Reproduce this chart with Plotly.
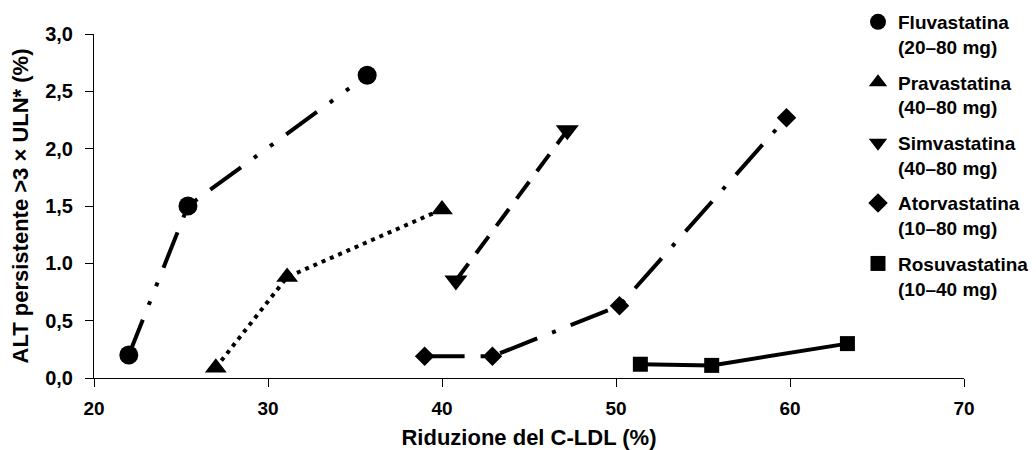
import plotly.graph_objects as go

# Data
series_names = ["Fluvastatina", "Pravastatina", "Simvastatina", "Atorvastatina", "Rosuvastatina"]
dose_labels = ["(20–80 mg)", "(40–80 mg)", "(40–80 mg)", "(10–80 mg)", "(10–40 mg)"]

fluva_x = [22.0, 25.4, 35.7]
fluva_y = [0.20, 1.50, 2.64]
prava_x = [27.0, 31.1, 40.0]
prava_y = [0.09, 0.88, 1.47]
simva_x = [40.8, 47.2]
simva_y = [0.85, 2.16]
atorva_x = [39.0, 42.9, 50.2, 59.8]
atorva_y = [0.19, 0.19, 0.63, 2.27]
rosuva_x = [51.4, 55.5, 63.3]
rosuva_y = [0.12, 0.11, 0.30]

x_ticks = [20, 30, 40, 50, 60, 70]
y_tickvals = [0.0, 0.5, 1.0, 1.5, 2.0, 2.5, 3.0]
y_ticktext = ["0,0", "0,5", "1.0", "1,5", "2,0", "2,5", "3,0"]

xs = [fluva_x, prava_x, simva_x, atorva_x, rosuva_x]
ys = [fluva_y, prava_y, simva_y, atorva_y, rosuva_y]

symbols = ["circle", "triangle-up", "triangle-down", "diamond", "square"]
sizes = [19, 19, 20, 15, 15]
dashes = [
    "38px,16px,4px,16px,4px,16px",
    "4px,5px",
    "21px,13px",
    "40px,16px,4px,16px",
    "solid",
]

FONT = "Liberation Sans, Arial, sans-serif"

fig = go.Figure()
for i in range(5):
    fig.add_trace(go.Scatter(
        x=xs[i], y=ys[i], mode="lines",
        line=dict(color="black", width=4, dash=dashes[i]),
        showlegend=False, hoverinfo="skip", cliponaxis=False,
    ))
for i in range(5):
    fig.add_trace(go.Scatter(
        x=xs[i], y=ys[i], mode="markers",
        marker=dict(symbol=symbols[i], size=sizes[i], color="black"),
        name=series_names[i] + "<br>" + dose_labels[i],
        legendgroup=series_names[i],
        cliponaxis=False,
    ))

fig.update_layout(
    width=1036, height=450,
    margin=dict(l=94, r=72, t=34, b=72, autoexpand=False),
    paper_bgcolor="white", plot_bgcolor="white",
    font=dict(family=FONT, color="black", size=19, weight="bold"),
    showlegend=True,
    legend=dict(
        x=(858 - 94) / 870, y=1 + 31 / 344, xanchor="left", yanchor="top",
        font=dict(family=FONT, size=19, color="black", weight="bold"),
        valign="top", tracegroupgap=8, traceorder="grouped",
        bgcolor="rgba(0,0,0,0)", maxheight=440,
    ),
    xaxis=dict(
        range=[20, 70], tickvals=x_ticks, ticktext=[str(v) for v in x_ticks],
        showline=True, linecolor="black", linewidth=1,
        ticks="outside", ticklen=8, tickcolor="black", tickwidth=1,
        showgrid=False, zeroline=False,
        tickfont=dict(family=FONT, size=19, weight="bold"),
        ticklabelstandoff=5,
        title=dict(text="Riduzione del C-LDL (%)", standoff=14,
                   font=dict(family=FONT, size=22, weight="bold")),
    ),
    yaxis=dict(
        range=[0, 3], tickvals=y_tickvals, ticktext=y_ticktext,
        showline=True, linecolor="black", linewidth=1,
        ticks="outside", ticklen=8, tickcolor="black", tickwidth=1,
        showgrid=False, zeroline=False,
        tickfont=dict(family=FONT, size=20, weight="bold"),
        ticklabelstandoff=8,
        title=dict(text="ALT persistente >3 × ULN* (%)", standoff=10,
                   font=dict(family=FONT, size=22, weight="bold")),
    ),
)

fig.write_html("out.html", config={"displayModeBar": False},
               post_script="document.body.style.margin='0';")
